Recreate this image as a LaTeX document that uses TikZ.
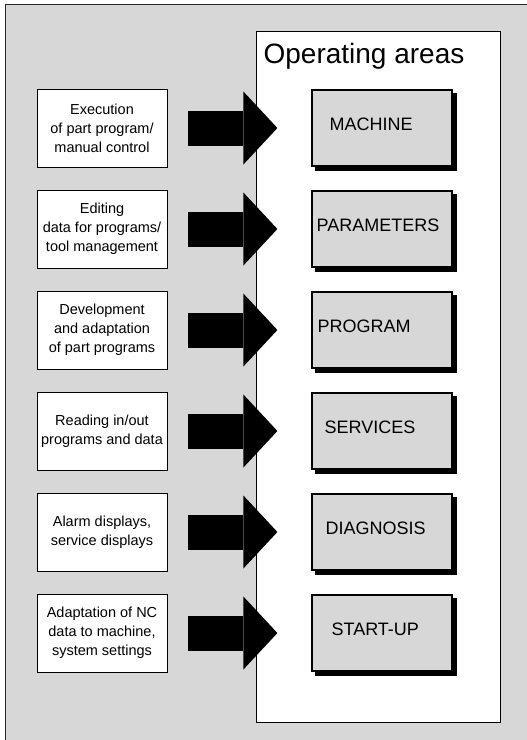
\documentclass[tikz,border=0pt]{standalone}
\usepackage{fontspec}
\setmainfont{Liberation Sans}
\usetikzlibrary{arrows.meta,calc}
\definecolor{panelgray}{RGB}{215,215,215}
\begin{document}
\begin{tikzpicture}[x=1pt,y=-1pt,
  srcbox/.style={draw=black, line width=0.8pt, fill=white, minimum width=130pt,
    minimum height=78pt, inner sep=0pt, align=center,
    font=\fontsize{14.5}{19}\selectfont},
  areabox/.style={draw=black, line width=1.2pt, fill=panelgray, minimum width=140pt,
    minimum height=76pt, inner sep=0pt,
    preaction={draw=black, fill=black, line width=1.2pt,
      transform canvas={shift={(4pt,-4pt)}}}},
  arealabel/.style={anchor=west, inner sep=0pt, font=\fontsize{18}{21}\selectfont},
  bigarrow/.style={draw=black, line width=35pt,
    -{Triangle[length=34pt,width=73pt,line width=0pt]}},
]
\useasboundingbox (0,0) rectangle (527,740);
\fill[white] (0,0) rectangle (527,740);
\fill[panelgray] (5,4) rectangle (527,740);
\draw[line width=1pt, black!85] (5,740) -- (5,4) -- (527,4);

\node[draw=black, line width=0.8pt, fill=white, minimum width=244pt,
  minimum height=691pt, inner sep=0pt] (areas) at (378,376.5) {};
\node[font=\fontsize{28}{32}\selectfont, anchor=base, inner sep=0pt] (title) at (364,63) {Operating areas};

% left description boxes
\node[srcbox] (s1) at (102,128) {Execution\\of part program/\\manual control};
\node[srcbox] (s2) at (102,229) {Editing\\data for programs/\\tool management};
\node[srcbox] (s3) at (102,330) {Development\\and adaptation\\of part programs};
\node[srcbox] (s4) at (102,431) {Reading in/out\\programs and data};
\node[srcbox] (s5) at (102,532) {Alarm displays,\\service displays};
\node[srcbox] (s6) at (102,633) {Adaptation of NC\\data to machine,\\system settings};

% operating area boxes
\node[areabox] (b1) at (382,128) {};
\node[areabox] (b2) at (382,229) {};
\node[areabox] (b3) at (382,330) {};
\node[areabox] (b4) at (382,431) {};
\node[areabox] (b5) at (382,532) {};
\node[areabox] (b6) at (382,633) {};

\node[arealabel] (t1) at ($(b1.west)+(18,-4)$) {MACHINE};
\node[arealabel] (t2) at ($(b2.west)+(5,-4)$) {PARAMETERS};
\node[arealabel] (t3) at ($(b3.west)+(6,-4)$) {PROGRAM};
\node[arealabel] (t4) at ($(b4.west)+(13,-4)$) {SERVICES};
\node[arealabel] (t5) at ($(b5.west)+(14,-4)$) {DIAGNOSIS};
\node[arealabel] (t6) at ($(b6.west)+(20,-4)$) {START-UP};

% big arrows
\foreach \i in {1,...,6}{
  \draw[bigarrow] ($(s\i.east)+(21,0)$) -- ($(b\i.west)+(-34,0)$);
}
\end{tikzpicture}
\end{document}
